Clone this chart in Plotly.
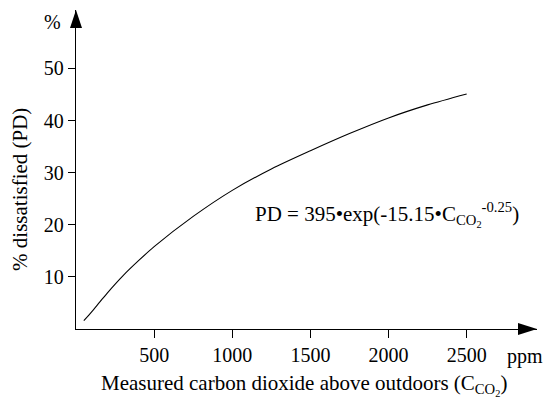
import plotly.graph_objects as go

# Data
co2_ppm = [50, 100, 150, 200, 300, 400, 500, 750, 1000, 1250, 1500, 1750, 2000, 2250, 2500]
pd_percent = [1.6, 3.3, 5.1, 6.9, 10.2, 13.1, 15.8, 21.6, 26.6, 30.7, 34.2, 37.5, 40.5, 43.0, 45.1]
x_ticks = [500, 1000, 1500, 2000, 2500]
y_ticks = [10, 20, 30, 40, 50]

FONT = "Liberation Serif, Times New Roman, serif"
TICK_SIZE = 20
TEXT_SIZE = 21

fig = go.Figure()
fig.add_trace(go.Scatter(x=co2_ppm, y=pd_percent, mode="lines",
                         line=dict(color="black", width=1.1, shape="spline", smoothing=0.8),
                         showlegend=False, hoverinfo="skip"))

fig.update_layout(
    width=547, height=403,
    margin=dict(l=76, r=10, t=10, b=73.5),
    paper_bgcolor="white", plot_bgcolor="white",
    font=dict(family=FONT, size=TEXT_SIZE, color="black"),
    xaxis=dict(range=[0, 2950], tickvals=x_ticks, ticks="outside", ticklen=8,
               tickwidth=1, tickcolor="black", showline=True, linecolor="black",
               linewidth=1.3, showgrid=False, zeroline=False,
               tickfont=dict(family=FONT, size=TICK_SIZE, color="black")),
    yaxis=dict(range=[0, 61.2], tickvals=y_ticks, ticks="outside", ticklen=7,
               tickwidth=1, tickcolor="black", showline=True, linecolor="black",
               linewidth=1.3, showgrid=False, zeroline=False,
               tickfont=dict(family=FONT, size=TICK_SIZE, color="black")),
    shapes=[
        # y-axis arrow head
        dict(type="path", xref="paper", yref="paper", xsizemode="pixel", ysizemode="pixel",
             xanchor=0, yanchor=1, path="M -6 -18 L 6 -18 L 0 0 Z",
             fillcolor="black", line=dict(color="black", width=0)),
        # x-axis arrow head
        dict(type="path", xref="paper", yref="paper", xsizemode="pixel", ysizemode="pixel",
             xanchor=1, yanchor=0, path="M -19 -6 L -19 6 L 0 0 Z",
             fillcolor="black", line=dict(color="black", width=0)),
    ],
    annotations=[
        dict(text="%", xref="paper", yref="paper", x=-0.028, y=0.962,
             showarrow=False, xanchor="right", yanchor="middle",
             font=dict(family=FONT, size=TICK_SIZE)),
        dict(text="ppm", xref="paper", yref="paper", x=0.974, y=-0.086,
             showarrow=False, xanchor="center", yanchor="middle",
             font=dict(family=FONT, size=TICK_SIZE)),
        dict(text="Measured carbon dioxide above outdoors (C<sub>CO<sub>2</sub></sub>)",
             xref="paper", yref="paper", x=0.4946, y=-0.174,
             showarrow=False, xanchor="center", yanchor="middle",
             font=dict(family=FONT, size=TEXT_SIZE)),
        dict(text="% dissatisfied (PD)", xref="paper", yref="paper", x=-0.1215, y=0.439,
             showarrow=False, xanchor="center", yanchor="middle", textangle=-90,
             font=dict(family=FONT, size=TEXT_SIZE)),
        dict(text="PD = 395•exp(-15.15•C<sub>CO<sub>2</sub></sub><sup>-0.25</sup>)",
             xref="paper", yref="paper", x=0.385, y=0.358,
             showarrow=False, xanchor="left", yanchor="middle",
             font=dict(family=FONT, size=TEXT_SIZE)),
    ],
)

fig.write_html(
    "out.html",
    config={"displayModeBar": False, "staticPlot": True},
    post_script="document.body.style.margin='0';document.body.style.overflow='hidden';",
)
